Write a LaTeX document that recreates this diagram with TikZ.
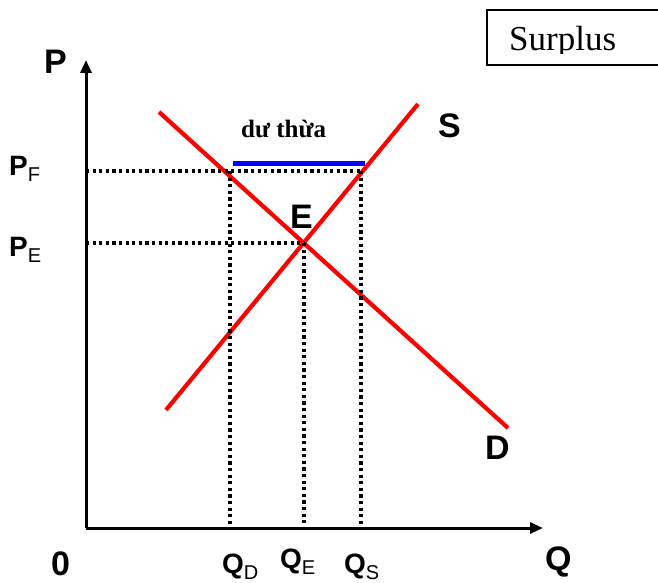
\documentclass[tikz,border=0pt]{standalone}
\usepackage{fontspec}
\setmainfont{Liberation Serif}
\setsansfont{Liberation Sans}
\usetikzlibrary{arrows.meta}

\newcommand{\sublab}[2]{#1\raisebox{-6pt}{\mdseries\fontsize{20}{20}\selectfont #2}}

\begin{document}
\begin{tikzpicture}[x=1pt, y=-1pt]
    \tikzset{
      axis line/.style={line width=3pt, -{Triangle[length=13pt,width=11pt]}},
      curve line/.style={red, line width=4.2pt},
      guide line/.style={line width=3.2pt, dash pattern=on 3.2pt off 3.4pt},
      big label/.style={font=\sffamily\bfseries\fontsize{34}{34}\selectfont, inner sep=0pt},
      tick label/.style={font=\sffamily\bfseries\fontsize{28}{28}\selectfont, inner sep=0pt}
    }
    \useasboundingbox (0,0) rectangle (658,583);

    % Axes
    \coordinate (origin) at (86, 528);
    \coordinate (ytop) at (86, 60);
    \coordinate (xend) at (543, 528);
    \draw[axis line] (origin) -- (ytop);
    \draw[axis line] (origin) -- (xend);

    % Demand and supply curves
    \coordinate (d_start) at (159, 112);
    \coordinate (d_end) at (508, 428);
    \coordinate (s_start) at (166, 410);
    \coordinate (s_end) at (418, 104);
    \draw[curve line] (d_start) -- (d_end);
    \draw[curve line] (s_start) -- (s_end);

    % Price and quantity levels
    \coordinate (pf) at (86, 171);
    \coordinate (pe) at (86, 243);
    \coordinate (eq) at (304, 243);
    \coordinate (qd_top) at (230, 171);
    \coordinate (qs_top) at (361, 171);
    \coordinate (qd) at (230, 528);
    \coordinate (qe) at (304, 528);
    \coordinate (qs) at (361, 528);

    % Dotted guides
    \draw[guide line] (pf) -- (qs_top);
    \draw[guide line] (pe) -- (eq);
    \draw[guide line] (qd_top) -- (qd);
    \draw[guide line] (eq) -- (qe);
    \draw[guide line] (qs_top) -- (qs);

    % Surplus bar
    \coordinate (bar_l) at (233, 163);
    \coordinate (bar_r) at (365, 163);
    \draw[blue, line width=5pt] (bar_l) -- (bar_r);
    \node[anchor=base west, inner sep=0pt, font=\bfseries\fontsize{25}{25}\selectfont] (bar_text) at (241, 137) {dư thừa};

    % Axis labels
    \node[big label, anchor=base west] (p_lab) at (44, 74) {P};
    \node[big label, anchor=base west] (q_lab) at (545, 570) {Q};
    \node[big label, anchor=base west] (zero) at (51, 575) {0};
    \node[tick label, anchor=base west] (pf_lab) at (9, 175) {\sublab{P}{F}};
    \node[tick label, anchor=base west] (pe_lab) at (9, 256) {\sublab{P}{E}};
    \node[tick label, anchor=base west] (qd_lab) at (222, 573) {\sublab{Q}{D}};
    \node[tick label, anchor=base west] (qe_lab) at (280, 568) {\sublab{Q}{E}};
    \node[tick label, anchor=base west] (qs_lab) at (344, 573) {\sublab{Q}{S}};

    % Curve labels
    \node[big label, anchor=base west] (e_lab) at (290, 228) {E};
    \node[big label, anchor=base west] (s_lab) at (438, 137) {S};
    \node[big label, anchor=base west] (d_lab) at (485, 459) {D};

    % Title box (text cut at the box's inner edge)
    \draw[line width=1.2pt] (658, 10) -| (487, 65) -- (658, 65);
    \begin{scope}
      \clip (487, 10) rectangle (658, 54);
      \node[anchor=base west, inner sep=0pt, font=\fontsize{35}{35}\selectfont] (title) at (509, 51) {Surplus};
    \end{scope}
\end{tikzpicture}
\end{document}
